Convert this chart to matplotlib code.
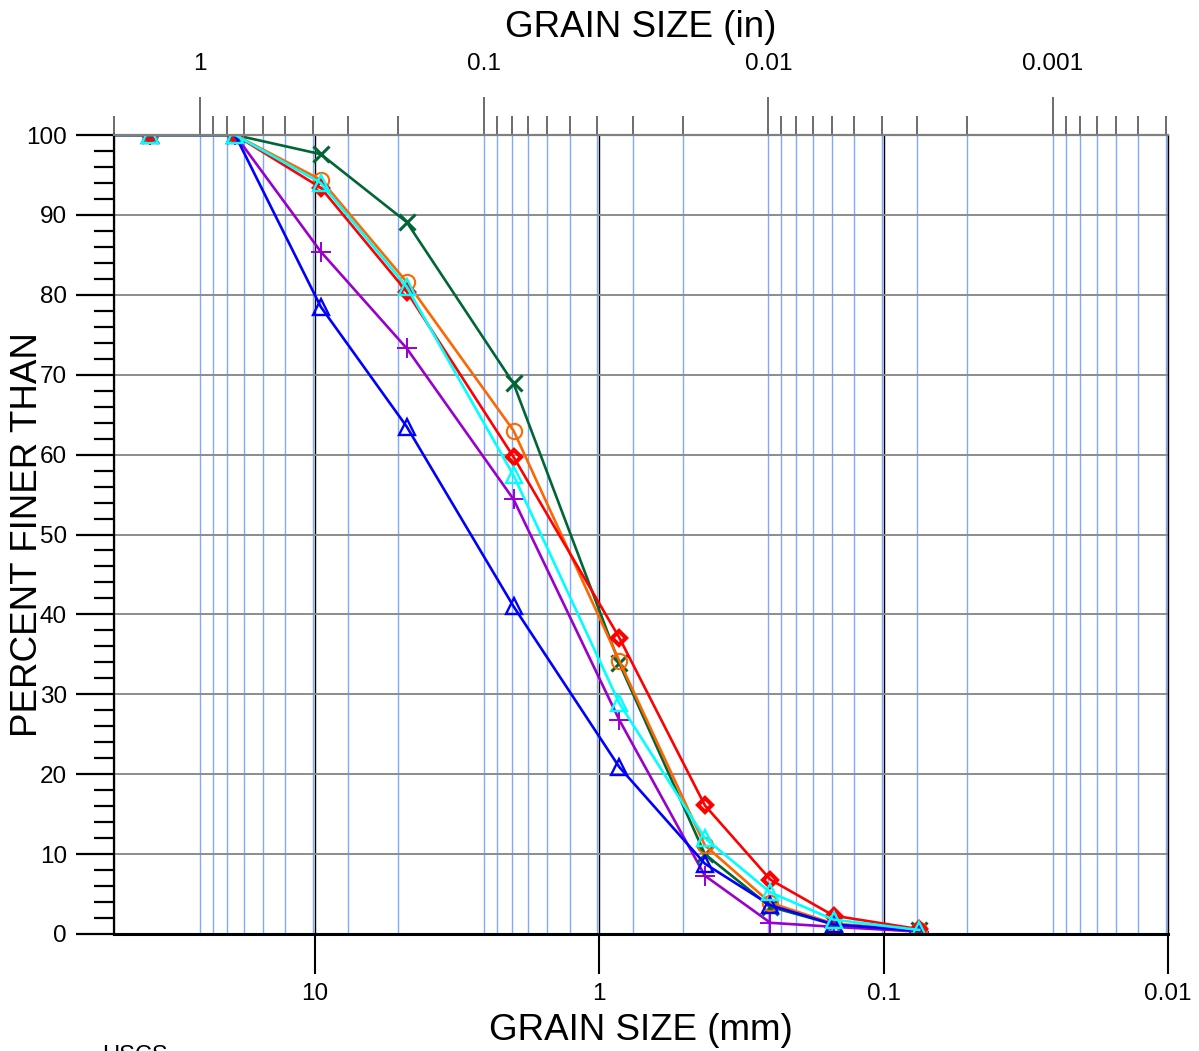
import matplotlib
matplotlib.use("Agg")
import matplotlib.pyplot as plt
from matplotlib import ticker

plt.rcParams['font.family'] = ['Liberation Sans', 'DejaVu Sans']

# ---- data ----
sieve_mm = [76.2, 38.1, 19.05, 9.525, 4.75, 2.0, 0.85, 0.425, 0.25, 0.15, 0.075]
green_vals = [100, 100, 100, 97.6, 89.1, 68.9, 33.9, 10.0, 3.4, 1.2, 0.5]
orange_vals = [100, 100, 100, 94.4, 81.6, 63.0, 34.2, 11.1, 3.9, 1.3, 0.5]
red_vals = [100, 100, 100, 93.4, 80.4, 59.7, 37.1, 16.1, 6.8, 2.3, 0.6]
cyan_vals = [100, 100, 100, 94.0, 81.0, 57.4, 28.9, 12.0, 5.2, 1.8, 0.5]
purple_vals = [100, 100, 100, 85.4, 73.3, 54.4, 26.8, 7.3, 1.4, 0.9, 0.3]
blue_vals = [100, 100, 100, 78.5, 63.5, 41.0, 20.9, 8.8, 3.6, 1.2, 0.4]

x_mm_ticks = [10, 1, 0.1, 0.01]
x_in_ticks = [1, 0.1, 0.01, 0.001]
y_ticks = [0, 10, 20, 30, 40, 50, 60, 70, 80, 90, 100]
MM_PER_IN = 25.4
x_left_mm, x_right_mm = 50.8, 0.01

fig = plt.figure(figsize=(11.99, 10.51), dpi=100)
L, R, B, T = 114 / 1199, 1168 / 1199, 1 - 934 / 1051, 1 - 135 / 1051
ax = fig.add_axes([L, B, R - L, T - B])
ax_in = ax.twiny()

# background inch axis with blue grid
ax_in.set_xscale('log')
ax_in.set_xlim(x_left_mm / MM_PER_IN, x_right_mm / MM_PER_IN)
ax_in.xaxis.set_major_locator(ticker.FixedLocator(x_in_ticks))
ax_in.xaxis.set_major_formatter(ticker.FuncFormatter(lambda v, _: f'{v:g}'))
ax_in.xaxis.set_minor_locator(ticker.LogLocator(base=10, subs=range(2, 10), numticks=50))
ax_in.xaxis.set_minor_formatter(ticker.NullFormatter())
ax_in.grid(True, which='both', axis='x', color='#80A8FF', lw=1.0)
ax_in.tick_params(axis='x', which='major', direction='out', length=27.5, width=1.1,
                  color='#444444', labelsize=17.5, pad=16)
ax_in.tick_params(axis='x', which='minor', direction='out', length=13.7, width=1.1,
                  color='#444444')
ax_in.set_xlabel('GRAIN SIZE (in)', fontsize=26.5)
ax_in.xaxis.set_label_coords(0.5, (934 - 28) / 799)
ax_in.xaxis.label.set_va('center')
for s in ax_in.spines.values():
    s.set_visible(False)
ax_in.set_zorder(0)
ax.set_zorder(1)
ax.patch.set_visible(False)

# main mm axis
ax.set_xscale('log')
ax.set_xlim(x_left_mm, x_right_mm)
ax.set_ylim(0, 100)
ax.xaxis.set_major_locator(ticker.FixedLocator(x_mm_ticks))
ax.xaxis.set_major_formatter(ticker.FuncFormatter(lambda v, _: f'{v:g}'))
ax.xaxis.set_minor_locator(ticker.NullLocator())
ax.yaxis.set_major_locator(ticker.FixedLocator(y_ticks))
ax.yaxis.set_minor_locator(ticker.MultipleLocator(2))
ax.grid(True, which='major', axis='x', color='black', lw=1.0)
ax.grid(True, which='major', axis='y', color='#8C8C8C', lw=1.4)
ax.tick_params(axis='x', which='major', direction='out', length=29, width=1.5,
               color='black', labelsize=17.5, pad=6)
ax.tick_params(axis='y', which='major', direction='out', length=27.5, width=1.6,
               color='black', labelsize=17.5, pad=6.5)
ax.tick_params(axis='y', which='minor', direction='out', length=14.5, width=1.6,
               color='black')
ax.spines['top'].set_color('#808080')
ax.spines['top'].set_linewidth(1.6)
ax.spines['right'].set_color('black')
ax.spines['right'].set_linewidth(1.0)
ax.spines['bottom'].set_linewidth(2.2)
ax.spines['left'].set_linewidth(1.6)

ax.set_xlabel('GRAIN SIZE (mm)', fontsize=26.5)
ax.xaxis.set_label_coords(0.5, (934 - 1030) / 799)
ax.xaxis.label.set_va('center')
ax.set_ylabel('PERCENT FINER THAN', fontsize=26.5)
ax.yaxis.set_label_coords((28 - 114) / 1054, 0.5)
ax.yaxis.label.set_va('center')

lw = 1.9
ax.plot(sieve_mm, purple_vals, color='#9900CC', lw=lw, marker='+', ms=15, mew=1.4)
ax.plot(sieve_mm, green_vals, color='#006633', lw=lw, marker='x', ms=12, mew=2.2)
ax.plot(sieve_mm, orange_vals, color='#FF6600', lw=lw, marker='o', ms=11, mfc='none', mew=1.5)
ax.plot(sieve_mm, red_vals, color='#FF0000', lw=lw, marker='D', ms=7, mfc='none', mew=3.0)
ax.plot(sieve_mm, blue_vals, color='#0000FF', lw=lw, marker='^', ms=11.5, mfc='none', mew=1.7)
ax.plot(sieve_mm, cyan_vals, color='#00FFFF', lw=lw, marker='^', ms=11.5, mfc='none', mew=1.7)

fig.text(102 / 1199, 1 - 1045 / 1051, 'USCS', fontsize=17, ha='left', va='top')

fig.savefig('out.png', dpi=100)
